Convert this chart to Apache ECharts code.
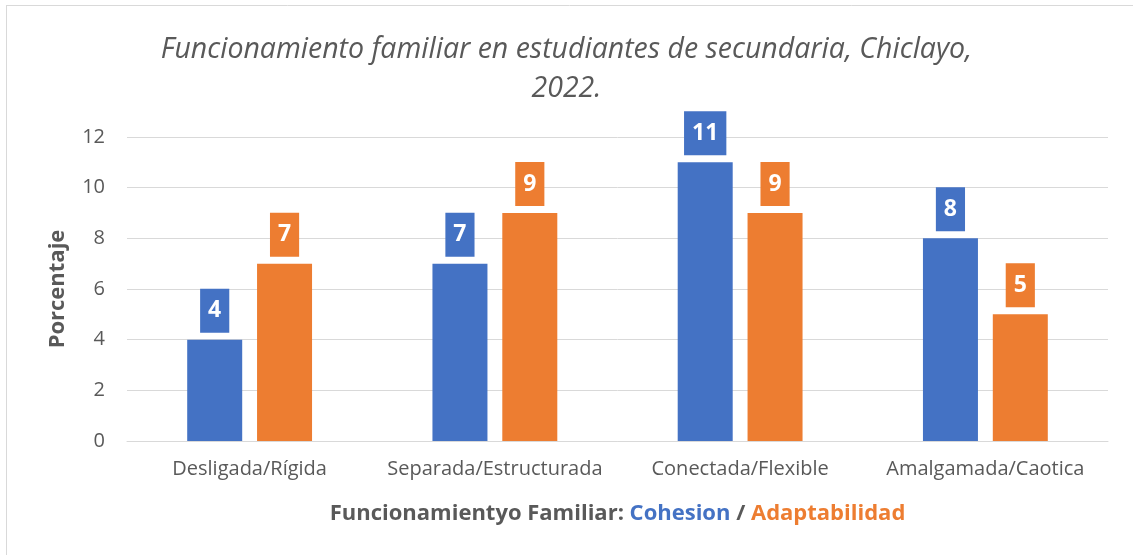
<!DOCTYPE html>
<html>
<head>
<meta charset="utf-8">
<script src="https://cdn.jsdelivr.net/npm/echarts@6/dist/echarts.min.js"></script>
<style>
  html, body { margin: 0; padding: 0; background: #fff; }
  #main { width: 1133px; height: 555px; }
</style>
</head>
<body>
<div id="main"></div>
<script>
// categorias y valores
const categorias = ["Desligada/Rígida", "Separada/Estructurada", "Conectada/Flexible", "Amalgamada/Caotica"];
const cohesion = [4, 7, 11, 8];
const adaptabilidad = [7, 9, 9, 5];
const yTicks = [0, 2, 4, 6, 8, 10, 12];

const fontFam = "'Open Sans', 'Noto Sans', sans-serif";
const grisTexto = "#595959";

const myChart = echarts.init(document.getElementById("main"));

const etiqueta = {
  show: true,
  position: "top",
  distance: 7,
  color: "#fff",
  fontWeight: "bold",
  fontSize: 23,
  lineHeight: 24,
  fontFamily: fontFam,
  backgroundColor: "inherit",
  padding: [10, 8, 10, 8],
};

const option = {
  animation: false,
  textStyle: { fontFamily: fontFam },
  title: {
    text: "Funcionamiento familiar en estudiantes de secundaria, Chiclayo,\n2022.",
    left: "center",
    top: 25,
    textStyle: {
      color: grisTexto,
      fontStyle: "italic",
      fontWeight: "normal",
      fontSize: 28.5,
      lineHeight: 39,
      fontFamily: fontFam,
    },
  },
  graphic: [
    { type: "line", shape: { x1: 6.5, y1: 5, x2: 6.5, y2: 555 }, style: { stroke: "#d9d9d9", lineWidth: 1 } },
    { type: "line", shape: { x1: 6, y1: 5.5, x2: 1133, y2: 5.5 }, style: { stroke: "#d9d9d9", lineWidth: 1 } },
  ],
  grid: {
    left: 127,
    right: 25,
    top: 137,
    bottom: 114,
    containLabel: false,
  },
  xAxis: {
    type: "category",
    data: categorias,
    name: "{a|Funcionamientyo Familiar: }{b|Cohesion}{a| / }{c|Adaptabilidad}",
    nameLocation: "middle",
    nameGap: 62,
    nameTextStyle: {
      rich: {
        a: { color: grisTexto, fontWeight: "bold", fontSize: 22, fontFamily: fontFam },
        b: { color: "#4472C4", fontWeight: "bold", fontSize: 22, fontFamily: fontFam },
        c: { color: "#ED7D31", fontWeight: "bold", fontSize: 22, fontFamily: fontFam },
      },
    },
    axisLine: { lineStyle: { color: "#d9d9d9", width: 1 } },
    axisTick: { show: false },
    axisLabel: { color: grisTexto, fontSize: 20, margin: 18, interval: 0 },
  },
  yAxis: {
    type: "value",
    min: yTicks[0],
    max: yTicks[yTicks.length - 1],
    interval: 2,
    name: "Porcentaje",
    nameLocation: "middle",
    nameGap: 58,
    nameTextStyle: { color: grisTexto, fontWeight: "bold", fontSize: 22 },
    axisLine: { show: false },
    axisTick: { show: false },
    axisLabel: { color: grisTexto, fontSize: 20, margin: 22 },
    splitLine: { lineStyle: { color: "#d9d9d9", width: 1 } },
  },
  series: [
    {
      name: "Cohesion",
      type: "bar",
      data: cohesion,
      barWidth: 55,
      barGap: "27%",
      itemStyle: { color: "#4472C4" },
      label: etiqueta,
    },
    {
      name: "Adaptabilidad",
      type: "bar",
      data: adaptabilidad,
      barWidth: 55,
      itemStyle: { color: "#ED7D31" },
      label: etiqueta,
    },
  ],
};

myChart.setOption(option);
</script>
</body>
</html>
